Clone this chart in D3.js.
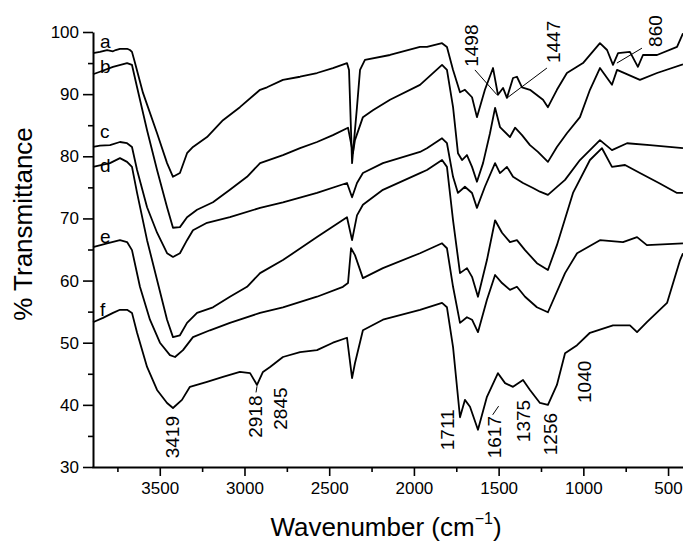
<!DOCTYPE html>
<html lang="en">

<head>
    <meta charset="UTF-8">
    <title>FTIR spectra a-f</title>
    <script src="https://cdn.jsdelivr.net/npm/d3@7"></script>
    <style>
        body { margin: 0; background: #fff; }
        text { font-family: "Liberation Sans", Arial, sans-serif; fill: #000; }
    </style>
</head>

<body>
    <svg id="chart" width="683" height="544"></svg>

    <script>
        // [wavenumber cm-1, % transmittance]
        const curveA = [[3894,96.6],[3853,96.8],[3811,97.1],[3776,96.9],[3760,97.1],[3735,97.3],[3693,97.3],[3676,97.1],[3664,96.8],
            [3646,95.0],[3599,90.2],[3516,83.7],[3457,78.9],[3422,76.7],[3381,77.3],[3339,80.5],[3304,81.5],[3221,83.1],
            [3127,85.8],[3027,87.9],[2908,90.7],[2867,91.1],[2773,92.3],[2672,92.8],[2572,93.4],[2478,94.2],[2395,95.0],
            [2383,93.9],[2365,78.9],[2348,84.2],[2336,87.9],[2318,93.9],[2289,95.5],[2141,96.3],[1964,97.6],[1923,97.6],
            [1834,98.2],[1805,97.6],[1769,93.9],[1728,90.3],[1699,90.7],[1657,89.5],[1628,86.3],[1581,90.7],[1533,94.2],
            [1504,89.9],[1474,91.0],[1451,89.4],[1415,92.6],[1392,92.8],[1362,91.1],[1315,90.7],[1238,89.1],[1209,87.9],
            [1156,90.7],[1097,93.4],[1002,95.0],[902,98.2],[860,97.1],[825,94.7],[795,96.6],[725,96.8],[678,94.4],
            [648,96.3],[565,96.3],[447,97.6],[412,99.8]];

        const curveB = [[3894,93.2],[3853,93.6],[3776,94.4],[3693,95.0],[3664,94.7],[3634,91.1],[3575,84.2],[3516,77.8],
            [3457,71.8],[3422,68.5],[3381,68.6],[3339,70.2],[3280,71.4],[3186,72.6],[3086,74.6],[2985,76.7],[2908,78.9],
            [2773,80.2],[2672,81.3],[2572,82.3],[2478,83.4],[2389,84.6],[2360,80.5],[2348,82.6],[2301,86.3],[2242,87.4],
            [2141,89.1],[1964,91.5],[1834,94.7],[1805,93.9],[1769,87.9],[1740,80.5],[1716,79.4],[1687,80.2],[1657,78.3],
            [1628,75.9],[1592,78.9],[1551,83.7],[1521,87.8],[1492,84.7],[1433,83.1],[1403,84.6],[1362,83.4],[1315,81.8],
            [1268,80.7],[1209,79.1],[1156,81.5],[1097,83.7],[1020,86.3],[961,90.7],[902,94.2],[831,91.5],[801,93.9],
            [666,92.3],[565,93.4],[412,94.8]];

        const curveC = [[3894,81.5],[3853,81.7],[3794,81.8],[3735,82.3],[3693,82.1],[3664,81.5],[3634,77.8],[3575,71.8],
            [3516,67.7],[3457,64.4],[3422,63.8],[3381,64.4],[3339,66.5],[3304,68.1],[3221,69.3],[3086,70.2],[2908,71.7],
            [2773,72.6],[2572,74.1],[2395,75.7],[2365,73.4],[2336,75.7],[2301,77.3],[2183,78.9],[1964,80.7],[1923,81.3],
            [1834,82.9],[1805,82.1],[1769,76.7],[1740,74.1],[1699,75.1],[1657,74.1],[1628,71.7],[1581,75.1],[1521,78.9],
            [1492,77.3],[1451,78.3],[1415,76.7],[1356,75.7],[1297,74.9],[1256,74.3],[1209,73.8],[1108,76.2],[1020,79.4],
            [902,82.6],[831,81.0],[742,82.1],[607,81.8],[412,81.3]];

        const curveD = [[3894,78.3],[3794,78.9],[3735,79.7],[3693,79.1],[3664,78.3],[3634,74.1],[3575,66.5],[3516,60.1],
            [3457,53.7],[3422,50.9],[3381,51.2],[3339,53.2],[3280,54.8],[3186,55.7],[3086,57.4],[2985,59.0],[2908,61.2],
            [2773,63.3],[2572,67.0],[2395,70.2],[2365,66.5],[2336,70.5],[2301,72.2],[2183,74.6],[1964,77.3],[1923,77.8],
            [1834,79.4],[1805,78.3],[1769,69.7],[1728,61.2],[1687,62.0],[1657,60.6],[1622,57.4],[1569,63.3],[1521,69.7],
            [1480,67.7],[1433,66.2],[1392,66.5],[1344,64.9],[1274,62.8],[1209,61.7],[1156,65.7],[1061,74.1],[961,79.4],
            [890,81.3],[831,78.3],[754,78.6],[666,77.3],[554,75.7],[447,74.1],[412,74.1]];

        const curveE = [[3894,65.4],[3811,66.0],[3735,66.5],[3693,66.2],[3664,64.9],[3617,59.0],[3558,53.7],[3499,50.0],
            [3440,48.0],[3410,47.7],[3363,48.8],[3304,50.9],[3204,52.0],[3086,53.2],[2908,54.8],[2773,55.7],[2572,57.4],
            [2419,59.0],[2389,59.6],[2371,65.2],[2348,64.1],[2301,60.4],[2183,62.0],[1964,64.4],[1834,66.0],[1805,65.2],
            [1769,59.0],[1728,53.2],[1687,54.1],[1657,53.7],[1622,51.7],[1569,56.9],[1521,60.9],[1480,59.6],[1433,58.5],
            [1392,59.0],[1344,57.4],[1274,55.7],[1209,54.9],[1108,61.2],[1037,64.4],[902,66.5],[766,66.2],[683,67.0],
            [625,65.7],[412,66.0]];

        const curveF = [[3894,53.3],[3835,54.0],[3776,54.8],[3735,55.3],[3693,55.3],[3664,54.8],[3634,51.6],[3575,46.1],
            [3516,42.4],[3457,40.3],[3422,39.5],[3369,40.8],[3322,42.9],[3221,43.7],[3127,44.5],[3027,45.3],[2967,45.1],
            [2926,43.2],[2891,45.3],[2849,46.1],[2773,47.7],[2672,48.5],[2572,48.8],[2478,50.0],[2395,50.8],[2365,44.3],
            [2348,46.7],[2301,52.0],[2183,53.7],[1964,55.3],[1834,56.4],[1805,55.7],[1769,49.3],[1728,38.0],[1699,40.8],
            [1669,39.7],[1622,36.0],[1569,41.3],[1504,45.1],[1462,43.5],[1415,42.9],[1356,44.0],[1315,42.4],[1256,40.3],
            [1209,40.0],[1156,43.2],[1108,48.3],[1037,49.6],[961,51.6],[825,52.8],[725,52.8],[683,51.7],[625,53.3],
            [506,56.4],[429,63.3],[412,64.4]];

        const curves = [curveA, curveB, curveC, curveD, curveE, curveF];
        const curveNames = ['a', 'b', 'c', 'd', 'e', 'f'];
        const nameAt = [[3853, 97.4], [3853, 93.4], [3853, 82.9], [3853, 77.5], [3853, 66.0], [3853, 54.3]];

        // peak labels: text, wavenumber of label centre, %T where label starts
        const peakLabels = [['3419', 3428, 31.4], ['2918', 2938, 34.7], ['2845', 2790, 36.0], ['1711', 1805, 32.7],
            ['1617', 1527, 31.4], ['1375', 1356, 34.0], ['1256', 1197, 31.9], ['1040', 996, 40.3],
            ['1498', 1663, 94.4], ['1447', 1179, 95.0], ['860', 577, 97.6]];
        // pointer lines [wn1, t1, wn2, t2]
        const pointers = [[1640, 93.9, 1510, 89.9], [1215, 94.2, 1445, 89.5], [654, 97.4, 802, 95.0],
            [2932, 42.0, 2926, 43.0], [1535, 38.4, 1500, 39.8]];

        const yTicks = [30, 40, 50, 60, 70, 80, 90, 100];
        const yMinor = [35, 45, 55, 65, 75, 85, 95];
        const xTicks = [3500, 3000, 2500, 2000, 1500, 1000, 500];
        const xMinor = [3750, 3250, 2750, 2250, 1750, 1250, 750];

        const svg = d3.select('#chart');
        const x = d3.scaleLinear().domain([3900, 400]).range([92, 685]);
        const y = d3.scaleLinear().domain([30, 100]).range([467, 32]);

        const line = d3.line().x(d => x(d[0])).y(d => y(d[1]));

        svg.selectAll('path.spec')
            .data(curves)
            .join('path')
            .attr('class', 'spec')
            .attr('d', line)
            .attr('fill', 'none')
            .attr('stroke', '#000')
            .attr('stroke-width', 1.8)
            .attr('stroke-linejoin', 'round');

        // axes
        const styleAxis = g => {
            g.select('.domain').attr('stroke-width', 2);
            g.selectAll('.tick line').attr('stroke-width', 1.6);
            g.selectAll('text').style('font-size', '17px').style('font-family', '"Liberation Sans", Arial, sans-serif');
        };

        svg.append('g')
            .attr('transform', `translate(0,${y(30)})`)
            .call(d3.axisBottom(x).tickValues(xTicks).tickSize(9).tickSizeOuter(0).tickPadding(6).tickFormat(d3.format('d')))
            .call(styleAxis);
        svg.append('g')
            .attr('transform', `translate(0,${y(30)})`)
            .call(d3.axisBottom(x).tickValues(xMinor).tickSize(5).tickSizeOuter(0).tickFormat(''))
            .call(g => g.select('.domain').remove())
            .call(g => g.selectAll('.tick line').attr('stroke-width', 1.6));

        svg.append('g')
            .attr('transform', `translate(${x(3900) + 1},0)`)
            .call(d3.axisLeft(y).tickValues(yTicks).tickSize(10).tickSizeOuter(0).tickPadding(4))
            .call(styleAxis);
        svg.append('g')
            .attr('transform', `translate(${x(3900) + 1},0)`)
            .call(d3.axisLeft(y).tickValues(yMinor).tickSize(5).tickSizeOuter(0).tickFormat(''))
            .call(g => g.select('.domain').remove())
            .call(g => g.selectAll('.tick line').attr('stroke-width', 1.6));

        // series letters
        svg.selectAll('text.name')
            .data(curveNames)
            .join('text')
            .attr('class', 'name')
            .attr('x', (d, i) => x(nameAt[i][0]))
            .attr('y', (d, i) => y(nameAt[i][1]))
            .style('font-size', '19px')
            .text(d => d);

        // peak labels
        svg.selectAll('text.peak')
            .data(peakLabels)
            .join('text')
            .attr('class', 'peak')
            .attr('transform', d => `translate(${x(d[1])},${y(d[2])}) rotate(-90)`)
            .attr('dy', '0.35em')
            .style('font-size', '19px')
            .text(d => d[0]);

        svg.selectAll('line.ptr')
            .data(pointers)
            .join('line')
            .attr('class', 'ptr')
            .attr('x1', d => x(d[0])).attr('y1', d => y(d[1]))
            .attr('x2', d => x(d[2])).attr('y2', d => y(d[3]))
            .attr('stroke', '#000')
            .attr('stroke-width', 1);

        // axis titles
        svg.append('text')
            .attr('transform', 'translate(32,224) rotate(-90)')
            .attr('text-anchor', 'middle')
            .style('font-size', '26px')
            .text('% Transmittance');

        const xt = svg.append('text')
            .attr('x', 386)
            .attr('y', 536)
            .attr('text-anchor', 'middle')
            .style('font-size', '26px');
        xt.append('tspan').text('Wavenumber (cm');
        xt.append('tspan').attr('dy', -12).style('font-size', '16px').text('\u22121');
        xt.append('tspan').attr('dy', 12).text(')');
    </script>
</body>

</html>
